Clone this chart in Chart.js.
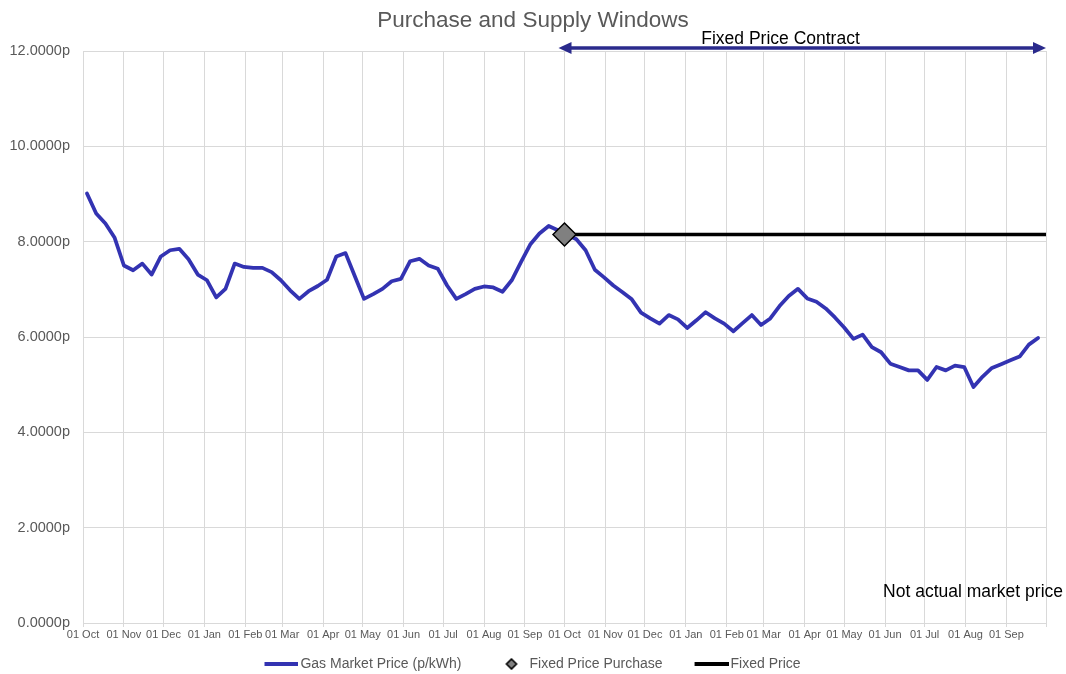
<!DOCTYPE html>
<html>
<head>
<meta charset="utf-8">
<script src="https://cdn.jsdelivr.net/npm/chart.js@4.4.1/dist/chart.umd.min.js"></script>
<style>
  html, body { margin: 0; padding: 0; background: #fff; }
</style>
</head>
<body>
<canvas id="chart" width="1066" height="674"></canvas>
<script>
// axis runs over two contract years, day 0 = 01 Oct 2020
var axisStart = '2020-10-01';
var monthLabels = ['01 Oct', '01 Nov', '01 Dec', '01 Jan', '01 Feb', '01 Mar', '01 Apr', '01 May', '01 Jun', '01 Jul', '01 Aug', '01 Sep',
                   '01 Oct', '01 Nov', '01 Dec', '01 Jan', '01 Feb', '01 Mar', '01 Apr', '01 May', '01 Jun', '01 Jul', '01 Aug', '01 Sep'];

// weekly market prices (p/kWh), first reading 04 Oct 2020
var firstPriceDate = '2020-10-04';
var gasPrices = [
    9.01, 8.59, 8.38, 8.08, 7.50, 7.40, 7.54, 7.31, 7.69, 7.82,
    7.85, 7.63, 7.31, 7.19, 6.83, 7.01, 7.54, 7.47, 7.45, 7.45,
    7.36, 7.19, 6.98, 6.80, 6.96, 7.07, 7.20, 7.69, 7.76, 7.28,
    6.80, 6.90, 7.01, 7.17, 7.22, 7.59, 7.64, 7.50, 7.43, 7.08,
    6.80, 6.90, 7.01, 7.06, 7.04, 6.95, 7.19, 7.57, 7.94, 8.17,
    8.33, 8.24, 8.15, 8.05, 7.82, 7.41, 7.25, 7.08, 6.94, 6.79,
    6.51, 6.39, 6.28, 6.46, 6.37, 6.19, 6.35, 6.52, 6.39, 6.28,
    6.12, 6.29, 6.46, 6.25, 6.39, 6.65, 6.86, 7.01, 6.81, 6.74,
    6.60, 6.41, 6.20, 5.96, 6.05, 5.79, 5.68, 5.44, 5.37, 5.30,
    5.30, 5.10, 5.37, 5.30, 5.40, 5.37, 4.95, 5.17, 5.35, 5.43,
    5.51, 5.59, 5.84, 5.98
];

// fixed price purchase
var purchaseDate = '2021-10-01';
var contractEnd = '2022-10-01';
var fixedPrice = 8.15;

var yTicks = [0, 2, 4, 6, 8, 10, 12];

var seriesNames = ['Gas Market Price (p/kWh)', 'Fixed Price Purchase', 'Fixed Price'];

function dayOf(str) {
    return Math.round((Date.parse(str) - Date.parse(axisStart)) / 86400000);
}

var d0 = new Date(axisStart + 'T00:00:00Z');
var monthStarts = [];
for (var m = 0; m <= 24; m++) {
    var t = Date.UTC(d0.getUTCFullYear(), d0.getUTCMonth() + m, 1);
    monthStarts.push(Math.round((t - d0.getTime()) / 86400000));
}

var firstDay = dayOf(firstPriceDate);
var gasPoints = gasPrices.map(function (v, i) { return {x: firstDay + 7 * i, y: v}; });
var buyDay = dayOf(purchaseDate);
var endDay = dayOf(contractEnd);

var BLUE = '#3333B2';
var NAVY = '#2A2A8C';
var GRID = '#d9d9d9';
var GREY_TXT = '#595959';

Chart.defaults.font.family = "'Liberation Sans', Arial, sans-serif";

// legend markers: the canvas is wider than the legend box so the
// sample sits close to its text, like the original
var MARK_W = 56;
function lineSample(color) {
    var c = document.createElement('canvas');
    c.width = MARK_W; c.height = 4;
    var g = c.getContext('2d');
    g.fillStyle = color;
    g.fillRect(MARK_W - 34, 0, 34, 4);
    return c;
}
function diamondSample() {
    var c = document.createElement('canvas');
    c.width = MARK_W; c.height = 12;
    var g = c.getContext('2d');
    var cx = 40;
    g.beginPath();
    g.moveTo(cx, 1); g.lineTo(cx + 5, 6); g.lineTo(cx, 11); g.lineTo(cx - 5, 6); g.closePath();
    g.fillStyle = '#808080';
    g.fill();
    g.lineWidth = 1.6;
    g.strokeStyle = '#000';
    g.stroke();
    return c;
}
var legendMarks = [lineSample(BLUE), diamondSample(), lineSample('#000')];

// legend sits a little left of centre in the original
var legendNudge = {
    id: 'legendNudge',
    afterLayout: function (chart) {
        chart.legend.left -= 9;
        chart.legend.right -= 9;
    }
};

// arrow + notes drawn over the plot
var notesPlugin = {
    id: 'notes',
    afterDraw: function (chart) {
        var ctx = chart.ctx;
        var area = chart.chartArea;
        var xs = chart.scales.x;
        var x1 = xs.getPixelForValue(buyDay) - 6;
        var x2 = xs.getPixelForValue(endDay);
        var y = area.top - 3;
        ctx.save();
        ctx.strokeStyle = NAVY;
        ctx.fillStyle = NAVY;
        ctx.lineWidth = 3.5;
        ctx.beginPath();
        ctx.moveTo(x1 + 8, y);
        ctx.lineTo(x2 - 8, y);
        ctx.stroke();
        ctx.beginPath();
        ctx.moveTo(x1, y); ctx.lineTo(x1 + 13, y - 6); ctx.lineTo(x1 + 13, y + 6); ctx.closePath();
        ctx.fill();
        ctx.beginPath();
        ctx.moveTo(x2, y); ctx.lineTo(x2 - 13, y - 6); ctx.lineTo(x2 - 13, y + 6); ctx.closePath();
        ctx.fill();

        ctx.fillStyle = '#000';
        ctx.font = "17.5px 'Liberation Sans', Arial, sans-serif";
        ctx.textAlign = 'center';
        ctx.textBaseline = 'middle';
        ctx.fillText('Fixed Price Contract', x1 + 222, area.top - 12);

        ctx.textAlign = 'right';
        ctx.fillText('Not actual market price', area.right + 17, area.bottom - 31);
        ctx.restore();
    }
};

var ctx = document.getElementById('chart').getContext('2d');
new Chart(ctx, {
    type: 'line',
    data: {
        datasets: [{
            label: seriesNames[0],
            data: gasPoints,
            borderColor: BLUE,
            backgroundColor: BLUE,
            borderWidth: 3.75,
            borderJoinStyle: 'round',
            borderCapStyle: 'round',
            pointRadius: 0,
            tension: 0,
            order: 1
        }, {
            label: seriesNames[1],
            data: [{x: buyDay, y: fixedPrice}],
            showLine: false,
            pointStyle: 'rectRot',
            pointRadius: 11.5,
            pointBackgroundColor: '#808080',
            pointBorderColor: '#000',
            pointBorderWidth: 1.5,
            order: 0
        }, {
            label: seriesNames[2],
            data: [{x: buyDay, y: fixedPrice}, {x: endDay, y: fixedPrice}],
            borderColor: '#000',
            backgroundColor: '#000',
            borderWidth: 3.5,
            pointRadius: 0,
            order: 2
        }]
    },
    options: {
        responsive: false,
        animation: false,
        events: [],
        layout: { padding: 0 },
        scales: {
            x: {
                type: 'linear',
                min: 0,
                max: endDay,
                afterBuildTicks: function (scale) {
                    scale.ticks = monthStarts.map(function (v) { return {value: v}; });
                },
                afterFit: function (scale) {
                    scale.height = 19;
                    scale.paddingRight = 20;
                },
                ticks: {
                    autoSkip: false,
                    maxRotation: 0,
                    minRotation: 0,
                    padding: 1,
                    color: GREY_TXT,
                    font: { size: 11 },
                    callback: function (v, i) { return monthLabels[i] || ''; }
                },
                grid: { color: GRID, lineWidth: 1, tickLength: 4 },
                border: { color: GRID }
            },
            y: {
                min: 0,
                max: 12,
                afterBuildTicks: function (scale) {
                    scale.ticks = yTicks.map(function (v) { return {value: v}; });
                },
                afterFit: function (scale) { scale.width = 83; },
                ticks: {
                    padding: 13,
                    color: GREY_TXT,
                    font: { size: 14.5 },
                    callback: function (v) { return v.toFixed(4) + 'p'; }
                },
                grid: { color: GRID, lineWidth: 1, drawTicks: false },
                border: { color: GRID }
            }
        },
        plugins: {
            title: {
                display: true,
                text: 'Purchase and Supply Windows',
                color: GREY_TXT,
                font: { size: 22.5, weight: 'normal' },
                padding: { top: 7, bottom: 17 }
            },
            legend: {
                position: 'bottom',
                maxHeight: 32,
                labels: {
                    usePointStyle: true,
                    pointStyleWidth: 46,
                    padding: 15,
                    color: GREY_TXT,
                    font: { size: 14 },
                    generateLabels: function (chart) {
                        return seriesNames.map(function (name, i) {
                            return {
                                text: name,
                                datasetIndex: i,
                                pointStyle: legendMarks[i],
                                fillStyle: 'transparent',
                                strokeStyle: 'transparent',
                                lineWidth: 0,
                                hidden: false,
                                fontColor: GREY_TXT
                            };
                        });
                    }
                }
            },
            tooltip: { enabled: false }
        }
    },
    plugins: [legendNudge, notesPlugin]
});
</script>
</body>
</html>
